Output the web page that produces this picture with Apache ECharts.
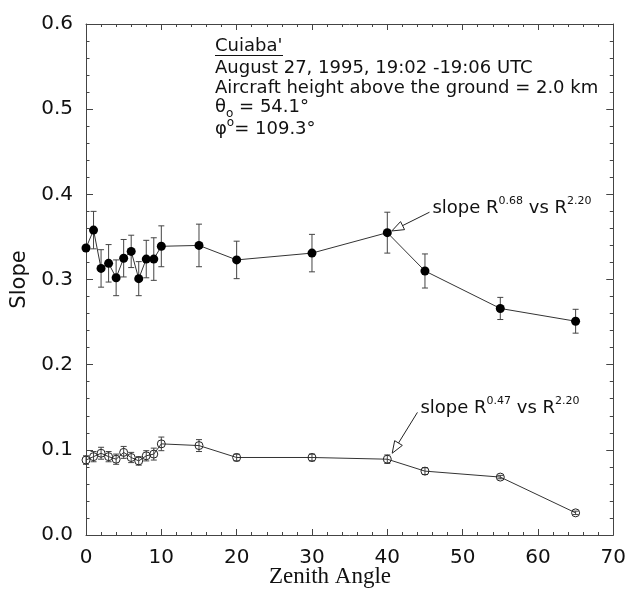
<!DOCTYPE html>
<html><head><meta charset="utf-8">
<script src="https://cdn.jsdelivr.net/npm/echarts@6/dist/echarts.min.js"></script>
<style>html,body{margin:0;padding:0;background:#fff}#c{width:629px;height:590px}</style>
</head><body><div id="c"></div>
<script>
// Data
const zenith = [0,1,2,3,4,5,6,7,8,9,10,15,20,30,40,45,55,65];
const slopeHigh = [0.337,0.358,0.313,0.319,0.302,0.325,0.333,0.301,0.324,0.324,0.339,0.340,0.323,0.331,0.355,0.310,0.266,0.251];
const errHigh   = [0.000,0.022,0.022,0.022,0.021,0.022,0.019,0.020,0.022,0.025,0.024,0.025,0.022,0.022,0.024,0.020,0.013,0.014];
const slopeLow  = [0.088,0.092,0.096,0.092,0.089,0.097,0.091,0.087,0.093,0.095,0.107,0.105,0.091,0.091,0.089,0.075,0.068,0.026];
const errLow    = [0.005,0.006,0.007,0.006,0.006,0.007,0.006,0.005,0.006,0.007,0.008,0.007,0.004,0.004,0.005,0.004,0.002,0.002];
const xTicks = [0,10,20,30,40,50,60,70];
const yTicks = [0.0,0.1,0.2,0.3,0.4,0.5,0.6];
const infoLines = ["Cuiaba'", "August 27, 1995, 19:02 -19:06 UTC", "Aircraft height above the ground = 2.0 km"];
const thetaText = "= 54.1°";
const phiText = "= 109.3°";
const annHigh = {tail:[45.6,0.379], tip:[40.6,0.357], exp1:"0.68", exp2:"2.20"};
const annLow  = {tail:[44.0,0.144], tip:[40.65,0.096], exp1:"0.47", exp2:"2.20"};

const AX = '#444';
const chart = echarts.init(document.getElementById('c'));

function errSeries(vals, errs, color){
  return {
    type:'custom', silent:true, z:1,
    renderItem:(params, api)=>{
      const x=api.value(0), y=api.value(1), e=api.value(2);
      if(!e) return null;
      const t=api.coord([x,y+e]), b=api.coord([x,y-e]);
      const w=3, st={stroke:color,lineWidth:1};
      return {type:'group',children:[
        {type:'line',shape:{x1:t[0],y1:t[1],x2:b[0],y2:b[1]},style:st},
        {type:'line',shape:{x1:t[0]-w,y1:t[1],x2:t[0]+w,y2:t[1]},style:st},
        {type:'line',shape:{x1:b[0]-w,y1:b[1],x2:b[0]+w,y2:b[1]},style:st}
      ]};
    },
    data: zenith.map((x,i)=>[x, vals[i], errs[i]])
  };
}

function xAx(pos, show){
  return {type:'value', min:0, max:70, interval:10, position:pos,
    axisLine:{show:true, onZero:false, lineStyle:{color:AX,width:1}},
    axisTick:{show:true, inside:true, length:6, lineStyle:{color:AX}},
    minorTick:{show:true, splitNumber:5, length:3, lineStyle:{color:AX}},
    splitLine:{show:false},
    axisLabel:{show:show, fontFamily:'DejaVu Sans', fontSize:20, color:'#111', margin:13,
      formatter:v=> xTicks.includes(v)? String(v):''}
  };
}
function yAx(pos, show){
  return {type:'value', min:0, max:0.6, interval:0.1, position:pos,
    axisLine:{show:true, onZero:false, lineStyle:{color:AX,width:1}},
    axisTick:{show:true, inside:true, length:7, lineStyle:{color:AX}},
    minorTick:{show:true, splitNumber:5, length:3.5, lineStyle:{color:AX}},
    splitLine:{show:false},
    name: show ? 'Slope' : '', nameLocation:'middle', nameGap:43,
    nameTextStyle:{fontFamily:'DejaVu Sans', fontSize:21, color:'#111'},
    axisLabel:{show:show, fontFamily:'DejaVu Sans', fontSize:20, color:'#111', margin:13,
      formatter:v=>{const r=Math.round(v*10)/10; return yTicks.includes(r)? r.toFixed(1):'';}}
  };
}

chart.setOption({
  animation:false,
  grid:{left:86, right:15, top:24, bottom:55, containLabel:false},
  xAxis:[xAx('bottom',true), xAx('top',false)],
  yAxis:[yAx('left',true), yAx('right',false)],
  series:[
    errSeries(slopeHigh, errHigh, '#444'),
    errSeries(slopeLow, errLow, '#444'),
    {type:'line', data:zenith.map((x,i)=>[x,slopeHigh[i]]), symbol:'circle', symbolSize:9,
     itemStyle:{color:'#000'}, lineStyle:{color:'#333',width:1}, z:3},
    {type:'line', data:zenith.map((x,i)=>[x,slopeLow[i]]), symbol:'circle', symbolSize:8,
     itemStyle:{color:'rgba(255,255,255,0)', borderColor:'#222', borderWidth:1}, lineStyle:{color:'#333',width:1}, z:3}
  ]
});

const FF = 'DejaVu Sans';
const FS = 18;
const g = [];
// info block
const infoX = 215, infoY0 = 47, dy = 20.3;
infoLines.forEach((s,i)=>{
  g.push({type:'text', left:infoX, top:infoY0+i*dy-10+(i>0?2:0), style:{text:s, font:FS+'px "DejaVu Sans"', fill:'#111'}});
});
g.push({type:'line', shape:{x1:infoX, y1:infoY0+8.5, x2:infoX+68, y2:infoY0+8.5}, style:{stroke:'#111', lineWidth:1}});
g.push({type:'text', left:infoX, top:infoY0+3*dy-10, style:{
  text:'{n|θ}{sub|o}{n| '+thetaText+'}',
  rich:{n:{fontFamily:FF,fontSize:FS,fill:'#111',lineHeight:25,verticalAlign:'middle'},
        sub:{fontFamily:FF,fontSize:12,fill:'#111',lineHeight:25,verticalAlign:'bottom'}}}});
g.push({type:'text', left:infoX, top:infoY0+4*dy-11, style:{
  text:'{n|φ}{sup|o}{n|'+phiText+'}',
  rich:{n:{fontFamily:FF,fontSize:FS,fill:'#111',lineHeight:25,verticalAlign:'middle'},
        sup:{fontFamily:FF,fontSize:12,fill:'#111',lineHeight:25,verticalAlign:'top'}}}});

// x-axis title
g.push({type:'text', left:269, top:565, style:{text:'Zenith Angle', font:'23px "Liberation Serif"', fill:'#111'}});

function arrow(a){
  const p = chart.convertToPixel({gridIndex:0}, a.tail);
  const q = chart.convertToPixel({gridIndex:0}, a.tip);
  const dx=q[0]-p[0], dyy=q[1]-p[1], L=Math.hypot(dx,dyy);
  const ux=dx/L, uy=dyy/L, nx=-uy, ny=ux;
  const hl=12, hw=4.5;
  const bx=q[0]-ux*hl, by=q[1]-uy*hl;
  g.push({type:'line', shape:{x1:p[0],y1:p[1],x2:bx,y2:by}, style:{stroke:'#222',lineWidth:1}, z:10});
  g.push({type:'polygon', shape:{points:[[q[0],q[1]],[bx+nx*hw,by+ny*hw],[bx-nx*hw,by-ny*hw]]},
    style:{fill:'#fff',stroke:'#222',lineWidth:1}, z:10});
  g.push({type:'text', x:p[0]+3, y:p[1]-4, style:{
    text:'{n|slope R}{sup|'+a.exp1+'}{n| vs R}{sup|'+a.exp2+'}',
    verticalAlign:'middle', align:'left',
    rich:{n:{fontFamily:FF,fontSize:FS,fill:'#111',lineHeight:25,verticalAlign:'middle'},
          sup:{fontFamily:FF,fontSize:11,fill:'#111',lineHeight:25,verticalAlign:'top'}}}, z:10});
}
arrow(annHigh);
arrow(annLow);
chart.setOption({graphic:g});
</script></body></html>
